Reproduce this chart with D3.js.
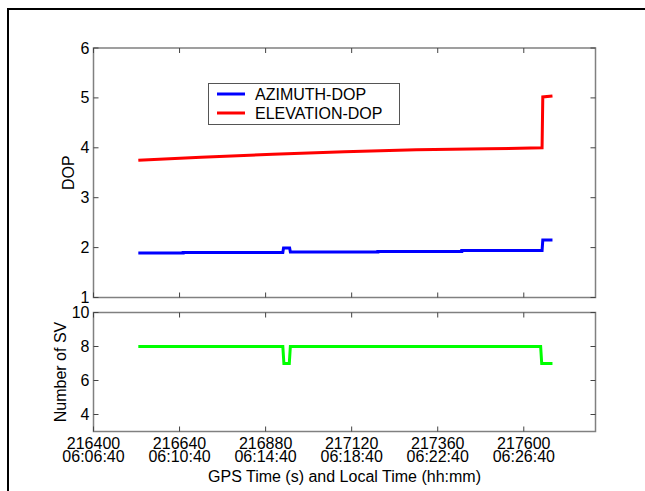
<!DOCTYPE html>
<html><head><meta charset="utf-8">
<script src="https://cdn.jsdelivr.net/npm/d3@7"></script>
<style>body{margin:0;background:#fff}svg{display:block}text{font-family:"Liberation Sans",Arial,sans-serif;fill:#000}</style>
</head><body>
<svg id="c" width="645" height="491"></svg>
<script>
// ---- data ----
const xTicks = [216400, 216640, 216880, 217120, 217360, 217600];
const xTickLocal = ["06:06:40", "06:10:40", "06:14:40", "06:18:40", "06:22:40", "06:26:40"];
const dopTicks = [1, 2, 3, 4, 5, 6];
const svTicks = [4, 6, 8, 10];
const seriesNames = ["AZIMUTH-DOP", "ELEVATION-DOP"];
const azTime = [216525, 216650, 216650, 216928, 216930, 216947, 216949, 217193, 217193, 217427, 217427, 217651, 217653, 217680];
const azDop  = [1.89, 1.89, 1.90, 1.90, 1.99, 1.99, 1.91, 1.91, 1.92, 1.92, 1.94, 1.94, 2.15, 2.15];
const elTime = [216525, 216700, 216900, 217100, 217300, 217500, 217651, 217653, 217680];
const elDop  = [3.75, 3.81, 3.87, 3.92, 3.96, 3.98, 4.00, 5.02, 5.04];
const svTime = [216525, 216928, 216931, 216946, 216949, 217647, 217650, 217680];
const svNum  = [8, 8, 7, 7, 8, 8, 7, 7];

const svg = d3.select("#c");
const L = 93.5, R = 595.5;
const x = d3.scaleLinear().domain([216400, 217800]).range([L, R]);
const yTop = d3.scaleLinear().domain([1, 6]).range([297.5, 48]);
const yBot = d3.scaleLinear().domain([3, 10]).range([431.5, 312.5]);
const axisCol = "#808080";
const FS = 16;

// outer border
svg.append("rect").attr("x", 8).attr("y", 9).attr("width", 660).attr("height", 500)
  .attr("fill", "none").attr("stroke", "#000").attr("stroke-width", 2);

function panel(y, yt) {
  const g = svg.append("g");
  const [y0, y1] = y.range();
  g.append("rect").attr("x", L).attr("y", y1).attr("width", R - L).attr("height", y0 - y1)
    .attr("fill", "#fff").attr("stroke", axisCol).attr("stroke-width", 1.5);
  const tl = 5;
  xTicks.forEach(t => {
    const px = x(t);
    g.append("line").attr("x1", px).attr("x2", px).attr("y1", y0).attr("y2", y0 - tl).attr("stroke", "#444");
    g.append("line").attr("x1", px).attr("x2", px).attr("y1", y1).attr("y2", y1 + tl).attr("stroke", "#444");
  });
  yt.forEach(t => {
    const py = y(t);
    g.append("line").attr("x1", L).attr("x2", L + tl).attr("y1", py).attr("y2", py).attr("stroke", "#444");
    g.append("line").attr("x1", R).attr("x2", R - tl).attr("y1", py).attr("y2", py).attr("stroke", "#444");
    g.append("text").attr("x", L - 4).attr("y", py + 5.5).attr("text-anchor", "end")
      .attr("font-size", FS).text(t);
  });
  return g;
}

const gTop = panel(yTop, dopTicks);
const gBot = panel(yBot, svTicks);

const lineTop = d3.line().x(d => x(d[0])).y(d => yTop(d[1]));
const lineBot = d3.line().x(d => x(d[0])).y(d => yBot(d[1]));

gTop.append("path").datum(elTime.map((t, i) => [t, elDop[i]])).attr("d", lineTop)
  .attr("fill", "none").attr("stroke", "#ff0000").attr("stroke-width", 3);
gTop.append("path").datum(azTime.map((t, i) => [t, azDop[i]])).attr("d", lineTop)
  .attr("fill", "none").attr("stroke", "#0000ff").attr("stroke-width", 3);
gBot.append("path").datum(svTime.map((t, i) => [t, svNum[i]])).attr("d", lineBot)
  .attr("fill", "none").attr("stroke", "#00ff00").attr("stroke-width", 3);

// x tick labels (two lines each)
xTicks.forEach((t, i) => {
  const tx = svg.append("text").attr("text-anchor", "middle").attr("font-size", FS);
  tx.append("tspan").attr("x", x(t)).attr("y", 449).text(t);
  tx.append("tspan").attr("x", x(t)).attr("y", 462).text(xTickLocal[i]);
});
svg.append("text").attr("x", (L + R) / 2).attr("y", 482).attr("text-anchor", "middle").attr("font-size", FS)
  .text("GPS Time (s) and Local Time (hh:mm)");

svg.append("text").attr("transform", `translate(74,${(yTop(1) + yTop(6)) / 2}) rotate(-90)`)
  .attr("text-anchor", "middle").attr("font-size", FS).text("DOP");
svg.append("text").attr("transform", `translate(66,${(yBot(3) + yBot(10)) / 2}) rotate(-90)`)
  .attr("text-anchor", "middle").attr("font-size", FS).text("Number of SV");

// legend
const lg = svg.append("g");
lg.append("rect").attr("x", 208.5).attr("y", 83.5).attr("width", 191).attr("height", 41)
  .attr("fill", "#fff").attr("stroke", "#555").attr("stroke-width", 1);
const legCols = ["#0000ff", "#ff0000"];
seriesNames.forEach((n, i) => {
  const yy = 94 + i * 19;
  lg.append("line").attr("x1", 217).attr("x2", 245).attr("y1", yy).attr("y2", yy)
    .attr("stroke", legCols[i]).attr("stroke-width", 3);
  lg.append("text").attr("x", 255).attr("y", yy + 6).attr("font-size", FS).text(n);
});
</script>
</body></html>
